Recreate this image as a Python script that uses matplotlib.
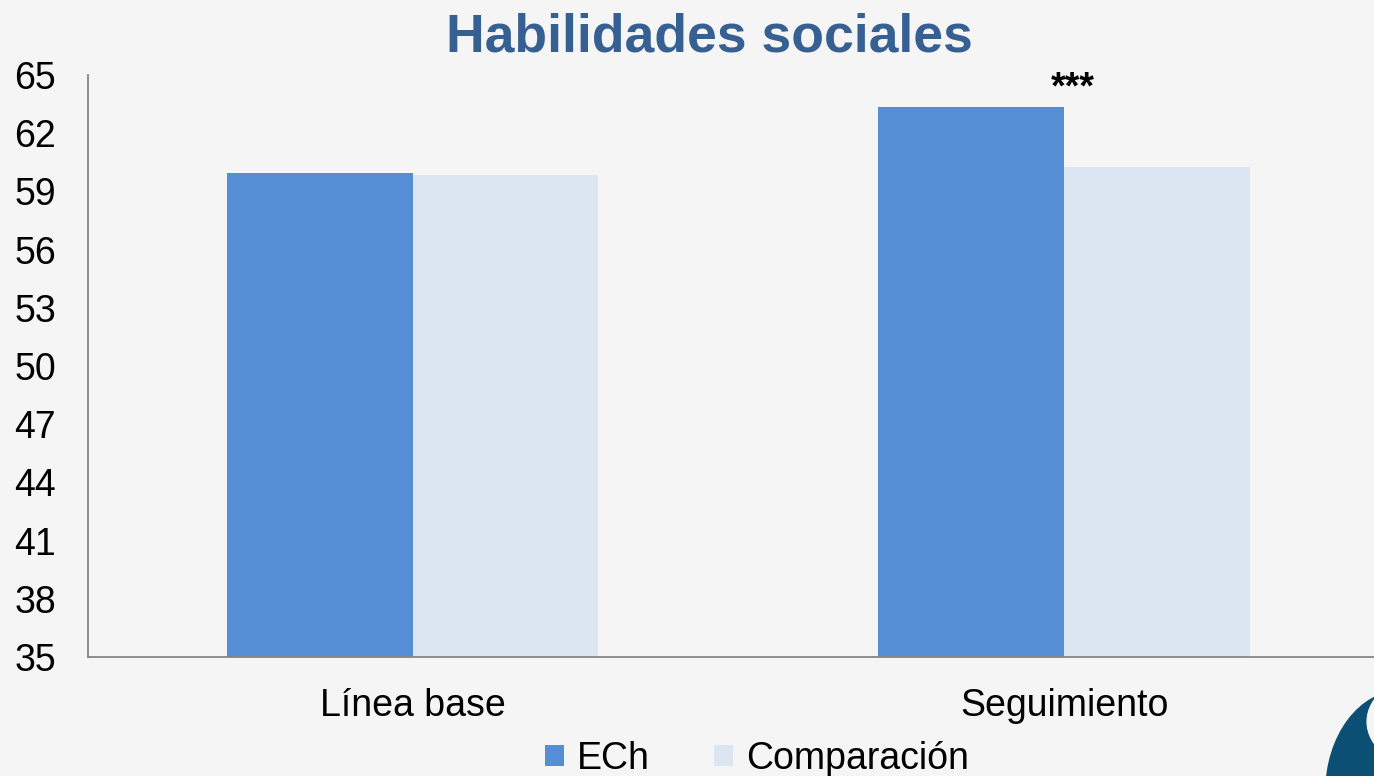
import matplotlib
matplotlib.use("Agg")
import matplotlib.pyplot as plt
import numpy as np
from matplotlib.patches import Ellipse

categories = ["Línea base", "Seguimiento"]
series_names = ["ECh", "Comparación"]
ech = [59.95, 63.37]
comparacion = [59.86, 60.27]
yticks = [35, 38, 41, 44, 47, 50, 53, 56, 59, 62, 65]
significance = ["", "***"]

plt.rcParams['font.family'] = ['Liberation Sans', 'DejaVu Sans']
bg = "#F5F5F5"
c_ech = "#558ED5"
c_comp = "#DCE6F2"

fig = plt.figure(figsize=(13.74, 7.76), dpi=100, facecolor=bg)
ax = fig.add_axes([0.064, 0.1534, 0.936, 0.75])
ax.set_facecolor(bg)

x = np.arange(len(categories))
w = 0.285
b1 = ax.bar(x - w/2, ech, w, color=c_ech, label=series_names[0], zorder=2)
b2 = ax.bar(x + w/2, comparacion, w, color=c_comp, label=series_names[1], zorder=2)

for xi, v, s in zip(x, ech, significance):
    if s:
        ax.annotate(s, xy=(xi, 64.1), xytext=(6, -10), textcoords='offset points',
                    ha='center', va='bottom', fontsize=27, fontweight='bold', color='black')

ax.set_ylim(35, 65)
ax.set_xlim(-0.499, 1.476)
ax.set_yticks(yticks)
ax.set_yticklabels([str(t) for t in yticks], fontsize=27)
ax.set_xticks(x)
ax.set_xticklabels(categories, fontsize=27)
ax.tick_params(axis='y', length=0, pad=23)
ax.tick_params(axis='x', length=0, pad=22)
for sp in ['top', 'right']:
    ax.spines[sp].set_visible(False)
ax.spines['left'].set_color('#868686')
ax.spines['bottom'].set_color('#868686')
ax.spines['left'].set_linewidth(1.3)
ax.spines['bottom'].set_linewidth(1.3)

fig.text(0.516, 1 - 51/776, "Habilidades sociales", ha='center', va='baseline',
         fontsize=38.5, fontweight='bold', color='#376092')

leg = fig.legend(handles=[b1, b2], labels=series_names, loc='center', bbox_to_anchor=(0.551, 0.022),
                 ncol=2, frameon=False, fontsize=27, handlelength=0.5, handleheight=0.5,
                 handletextpad=0.35, columnspacing=1.72)

# logo decoration (bottom-right)
fig.patches.append(Ellipse((1.02, -0.02), 0.11, 0.26, transform=fig.transFigure,
                           color='#0B4F75', zorder=5))
fig.patches.append(Ellipse((1.04, 0.07), 0.09, 0.12, transform=fig.transFigure,
                           color=bg, zorder=6))

fig.savefig("out.png", dpi=100, facecolor=bg)
